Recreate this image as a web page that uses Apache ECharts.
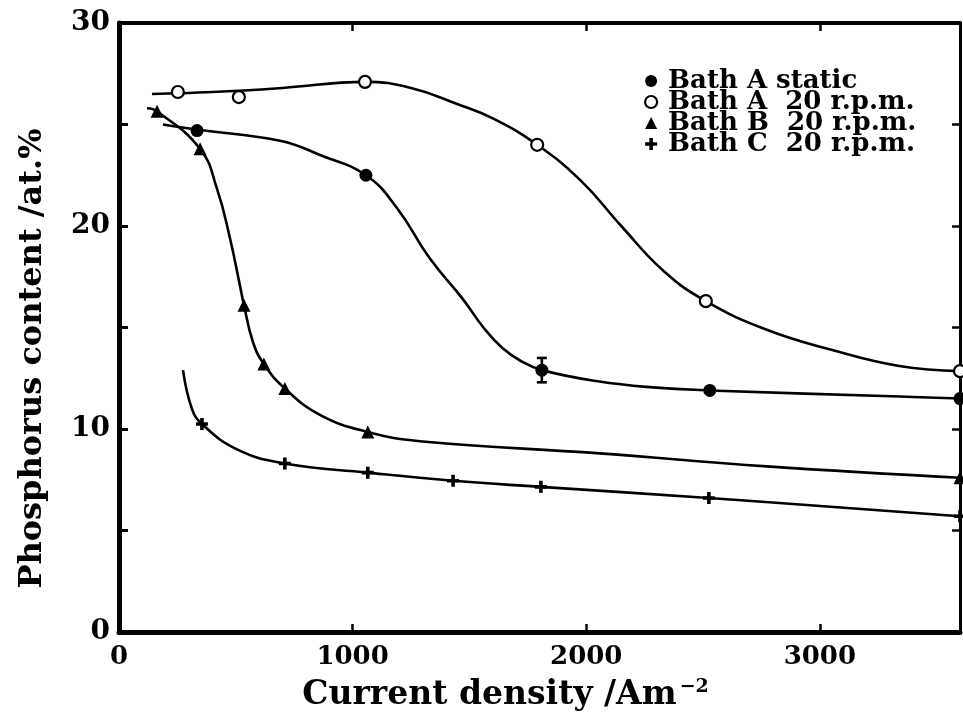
<!DOCTYPE html>
<html>
<head>
<meta charset="utf-8">
<script src="https://cdn.jsdelivr.net/npm/echarts@6/dist/echarts.min.js"></script>
<style>
  html, body { margin: 0; padding: 0; background: #fff; }
  #chart { width: 963px; height: 720px; }
</style>
</head>
<body>
<div id="chart"></div>
<script>
// Phosphorus content of deposits vs. current density for three baths

const names = ['Bath A static', 'Bath A  20 r.p.m.', 'Bath B  20 r.p.m.', 'Bath C  20 r.p.m.'];

// measured points [current density (A m^-2), P content (at.%)]
const bathAStatic = [[334, 24.7], [1057, 22.5], [1810, 12.9], [2529, 11.9], [3600, 11.5]];
const bathARot = [[252, 26.6], [513, 26.35], [1053, 27.1], [1790, 24.0], [2512, 16.3], [3600, 12.85]];
const bathBRot = [[163, 25.65], [347, 23.8], [535, 16.1], [620, 13.2], [710, 12.0], [1065, 9.85], [3600, 7.6]];
const bathCRot = [[355, 10.25], [710, 8.3], [1065, 7.85], [1430, 7.45], [1806, 7.15], [2525, 6.6], [3600, 5.7]];

// error bar on the static bath: [x, low, high]
const staticErrorBars = [[1810, 12.3, 13.5]];

// hand-fitted trend curves through each data set
const curveAStatic = [[188, 25.0], [334, 24.75], [689, 24.2], [860, 23.5], [1057, 22.5], [1189, 20.9], [1331, 18.4],
  [1472, 16.4], [1560, 15.0], [1640, 14.0], [1720, 13.35], [1810, 12.9], [2050, 12.35], [2285, 12.05], [2529, 11.9],
  [3342, 11.6], [3600, 11.5]];
const curveARot = [[141, 26.5], [400, 26.6], [700, 26.8], [1053, 27.1], [1250, 26.8], [1450, 26.0], [1600, 25.3], [1790, 24.0],
  [1980, 22.2], [2150, 20.0], [2330, 17.8], [2512, 16.3], [2770, 14.9], [3050, 13.9], [3340, 13.1], [3600, 12.85]];
const curveBRot = [[120, 25.8], [163, 25.65], [347, 23.8], [419, 21.85], [475, 19.4], [518, 17.05], [535, 16.1], [573, 14.3],
  [620, 13.2], [710, 12.0], [860, 10.7], [1065, 9.85], [1288, 9.4], [2058, 8.8], [2773, 8.16], [3600, 7.6]];
const curveCRot = [[274, 12.9], [312, 11.0], [355, 10.25], [505, 9.0], [710, 8.3], [1065, 7.85], [1430, 7.45], [1806, 7.15],
  [2525, 6.6], [3600, 5.7]];

const xTickLabels = [0, 1000, 2000, 3000];
const yTickLabels = [0, 10, 20, 30];

const FONT = 'DejaVu Serif';
const plusPath = 'path://M3.5,0H6.5V3.5H10V6.5H6.5V10H3.5V6.5H0V3.5H3.5Z';

const chart = echarts.init(document.getElementById('chart'), null, { renderer: 'canvas' });

function curve(name, data) {
  return {
    name: name, type: 'line', data: data, smooth: 0.45,
    showSymbol: false, symbol: 'none', silent: true, clip: false,
    lineStyle: { color: '#000', width: 2.6 }, z: 2
  };
}
function points(name, data, symbol, size, filled) {
  return {
    name: name, type: 'scatter', data: data, symbol: symbol, symbolSize: size, clip: false,
    itemStyle: filled ? { color: '#000', opacity: 1 }
                      : { color: '#fff', borderColor: '#000', borderWidth: 2.2, opacity: 1 },
    z: 3
  };
}

const tickText = { color: '#000', fontFamily: FONT, fontWeight: 'bold' };

chart.setOption({
  animation: false,
  backgroundColor: '#fff',
  grid: { left: 119, right: 2, top: 23, bottom: 88 },
  legend: {
    orient: 'vertical', left: 639, top: 63, itemGap: -5, itemWidth: 12, itemHeight: 12,
    textStyle: { color: '#000', fontFamily: FONT, fontWeight: 'bold', fontSize: 26, padding: [0, 0, 0, 6] },
    data: [
      { name: names[0], icon: 'circle', itemStyle: { color: '#000', opacity: 1 } },
      { name: names[1], icon: 'circle', itemStyle: { color: '#fff', borderColor: '#000', borderWidth: 2.2, opacity: 1 } },
      { name: names[2], icon: 'triangle', itemStyle: { color: '#000', opacity: 1 } },
      { name: names[3], icon: plusPath, itemStyle: { color: '#000', opacity: 1 } }
    ]
  },
  xAxis: [{
    type: 'value', min: 0, max: 3600, interval: 1000, position: 'bottom',
    name: '{t|Current density /Am}{s|−2}', nameLocation: 'middle', nameGap: 46,
    nameTextStyle: {
      padding: [0, 68, 0, 0],
      rich: {
        t: { color: '#000', fontFamily: FONT, fontWeight: 'bold', fontSize: 33 },
        s: { color: '#000', fontFamily: FONT, fontWeight: 'bold', fontSize: 19, verticalAlign: 'top', padding: [0, 0, 16, 3] }
      }
    },
    axisLine: { show: true, onZero: false, lineStyle: { color: '#000', width: 5 } },
    axisTick: { show: true, inside: true, length: 8, lineStyle: { color: '#000', width: 2.5 } },
    axisLabel: Object.assign({ margin: 12, fontSize: 26, formatter: v => xTickLabels.includes(v) ? String(v) : '' }, tickText),
    splitLine: { show: false }
  }, {
    type: 'value', min: 0, max: 3600, interval: 1000, position: 'top',
    axisLine: { show: true, onZero: false, lineStyle: { color: '#000', width: 4 } },
    axisTick: { show: true, inside: true, length: 8, lineStyle: { color: '#000', width: 2.5 } },
    axisLabel: { show: false }, splitLine: { show: false }
  }],
  yAxis: [{
    type: 'value', min: 0, max: 30, interval: 5, position: 'left',
    name: 'Phosphorus content /at.%', nameLocation: 'middle', nameGap: 70, nameRotate: 90,
    nameTextStyle: { color: '#000', fontFamily: FONT, fontWeight: 'bold', fontSize: 32, padding: [0, 62, 0, 0] },
    axisLine: { show: true, onZero: false, lineStyle: { color: '#000', width: 5 } },
    axisTick: { show: true, inside: true, length: 9, lineStyle: { color: '#000', width: 3 } },
    axisLabel: Object.assign({ margin: 9, fontSize: 28, formatter: v => yTickLabels.includes(v) ? String(v) : '' }, tickText),
    splitLine: { show: false }
  }, {
    type: 'value', min: 0, max: 30, interval: 5, position: 'right',
    axisLine: { show: true, onZero: false, lineStyle: { color: '#000', width: 3 } },
    axisTick: { show: true, inside: true, length: 8, lineStyle: { color: '#000', width: 2.5 } },
    axisLabel: { show: false }, splitLine: { show: false }
  }],
  series: [
    curve('A static curve', curveAStatic),
    curve('A rot curve', curveARot),
    curve('B rot curve', curveBRot),
    curve('C rot curve', curveCRot),
    points(names[0], bathAStatic, 'circle', 13, true),
    points(names[1], bathARot, 'circle', 12, false),
    points(names[2], bathBRot, 'triangle', 13, true),
    points(names[3], bathCRot, plusPath, 12, true),
    {
      name: 'error', type: 'custom', data: staticErrorBars, encode: { x: 0, y: [1, 2] }, z: 4, silent: true,
      renderItem: function (params, api) {
        const x = api.value(0);
        const lo = api.coord([x, api.value(1)]);
        const hi = api.coord([x, api.value(2)]);
        const w = 5;
        const st = { stroke: '#000', lineWidth: 2.6 };
        return {
          type: 'group', children: [
            { type: 'line', shape: { x1: lo[0], y1: lo[1], x2: hi[0], y2: hi[1] }, style: st },
            { type: 'line', shape: { x1: lo[0] - w, y1: lo[1], x2: lo[0] + w, y2: lo[1] }, style: st },
            { type: 'line', shape: { x1: hi[0] - w, y1: hi[1], x2: hi[0] + w, y2: hi[1] }, style: st }
          ]
        };
      }
    }
  ]
});
</script>
</body>
</html>
